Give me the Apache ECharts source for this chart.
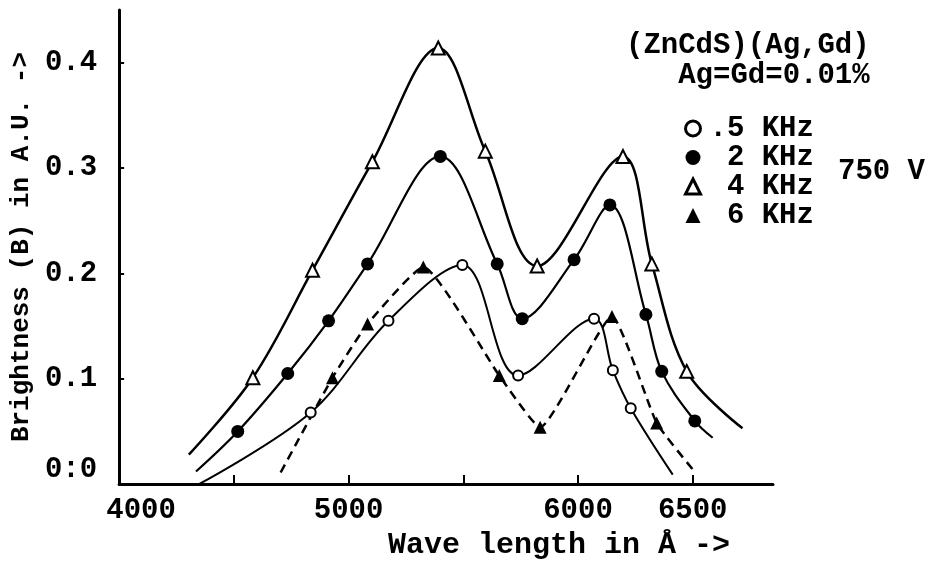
<!DOCTYPE html>
<html>
<head>
<meta charset="utf-8">
<script src="https://cdn.jsdelivr.net/npm/echarts@6/dist/echarts.min.js"></script>
<style>
html,body{margin:0;padding:0;background:#fff;}
#chart{width:947px;height:565px;}
</style>
</head>
<body>
<div id="chart"></div>
<script>
// Data (wavelength in Å, brightness in A.U.)
// Points with a 0 marker flag are curve ends drawn without a symbol.
const seriesNames = ['.5 KHz', '2 KHz', '4 KHz', '6 KHz'];

const wl_05 = [4348, 4835, 5174, 5496, 5739, 6070, 6152, 6230, 6413];
const b_05  = [0.000, 0.068, 0.155, 0.208, 0.103, 0.157, 0.108, 0.072, 0.009];
const mk_05 = [0, 1, 1, 1, 1, 1, 1, 1, 0];

const wl_2 = [4335, 4517, 4735, 4913, 5083, 5400, 5648, 5757, 5983, 6139, 6296, 6365, 6509, 6587];
const b_2  = [0.012, 0.050, 0.105, 0.155, 0.209, 0.311, 0.209, 0.157, 0.213, 0.265, 0.161, 0.107, 0.060, 0.044];
const mk_2 = [0, 1, 1, 1, 1, 1, 1, 1, 1, 1, 1, 1, 1, 0];

const wl_4 = [4304, 4583, 4843, 5104, 5391, 5596, 5822, 6196, 6322, 6474, 6717];
const b_4  = [0.028, 0.101, 0.203, 0.306, 0.414, 0.316, 0.207, 0.311, 0.209, 0.107, 0.053];
const mk_4 = [0, 1, 1, 1, 1, 1, 1, 1, 1, 1, 0];

const wl_6 = [4704, 4930, 5083, 5326, 5657, 5835, 6148, 6343, 6500];
const b_6  = [0.011, 0.101, 0.152, 0.206, 0.103, 0.054, 0.159, 0.058, 0.014];
const mk_6 = [0, 1, 1, 1, 1, 1, 1, 1, 0];

const xLabelValues = [4000, 5000, 6000, 6500];
const xTickValues  = [4500, 5000, 5500, 6000, 6500];
const yLabelValues = [0, 0.1, 0.2, 0.3, 0.4];
const yTickLabels  = ['0:0', '0.1', '0.2', '0.3', '0.4'];

const titleLines = ['(ZnCdS)(Ag,Gd)', '   Ag=Gd=0.01%'];
const voltageText = '750 V';
const xAxisTitle = 'Wave length in Å ->';
const yAxisTitle = 'Brightness (B) in A.U. ->';

const FONT = 'Liberation Mono';

function build(wl, b, mk) {
  return wl.map((x, i) => mk[i] ? [x, b[i]] : { value: [x, b[i]], symbol: 'none' });
}

const chart = echarts.init(document.getElementById('chart'), null, { renderer: 'canvas' });

const option = {
  backgroundColor: '#fff',
  animation: false,
  title: {
    text: titleLines.join('\n'),
    left: 621,
    top: 26,
    textStyle: { fontFamily: FONT, fontSize: 29, fontWeight: 'bold', color: '#000', lineHeight: 30 }
  },
  graphic: [{
    type: 'text',
    left: 838,
    top: 157,
    style: { text: voltageText, font: 'bold 29px "Liberation Mono"', fill: '#000' }
  }],
  legend: {
    orient: 'vertical',
    left: 679,
    top: 109,
    itemWidth: 15,
    itemHeight: 15,
    itemGap: 0,
    formatter: (n) => n.padStart(6, ' '),
    textStyle: { fontFamily: FONT, fontSize: 29, fontWeight: 'bold', color: '#000', lineHeight: 29, padding: [0, 0, 0, 4] },
    data: [
      { name: seriesNames[0], icon: 'circle', itemStyle: { color: '#fff', borderColor: '#000', borderWidth: 3 } },
      { name: seriesNames[1], icon: 'circle', itemStyle: { color: '#000', borderWidth: 0 } },
      { name: seriesNames[2], icon: 'triangle', itemStyle: { color: '#fff', borderColor: '#000', borderWidth: 3 } },
      { name: seriesNames[3], icon: 'triangle', itemStyle: { color: '#000', borderWidth: 0 } }
    ]
  },
  grid: { left: 118, top: 10, right: 174, bottom: 75, containLabel: false },
  xAxis: {
    type: 'value',
    min: 4000,
    max: 6850,
    interval: 500,
    splitLine: { show: false },
    axisLine: { lineStyle: { color: '#000', width: 3 } },
    axisTick: { show: true, inside: true, length: 9, customValues: xTickValues, lineStyle: { color: '#000', width: 2 } },
    axisLabel: {
      customValues: xLabelValues,
      margin: 12,
      fontFamily: FONT, fontSize: 29, fontWeight: 'bold', color: '#000',
      formatter: (v) => v === 4000 ? '{a|' + v + '}' : String(v),
      rich: { a: { fontFamily: FONT, fontSize: 29, fontWeight: 'bold', color: '#000', padding: [0, 0, 0, 44] } }
    },
    name: xAxisTitle,
    nameLocation: 'middle',
    nameGap: 36,
    nameTextStyle: { fontFamily: FONT, fontSize: 30, fontWeight: 'bold', color: '#000', padding: [0, 0, 0, 226] }
  },
  yAxis: {
    type: 'value',
    min: 0,
    max: 0.45,
    interval: 0.1,
    splitLine: { show: false },
    axisLine: { lineStyle: { color: '#000', width: 3 } },
    axisTick: { show: true, inside: true, length: 5, customValues: yLabelValues, lineStyle: { color: '#000', width: 2 } },
    axisLabel: {
      customValues: yLabelValues,
      margin: 22,
      fontFamily: FONT, fontSize: 29, fontWeight: 'bold', color: '#000',
      verticalAlignMinLabel: 'bottom',
      formatter: (v) => yTickLabels[Math.round(v * 10)]
    },
    name: yAxisTitle,
    nameLocation: 'middle',
    nameGap: 78,
    nameTextStyle: { fontFamily: FONT, fontSize: 26, fontWeight: 'bold', color: '#000' }
  },
  series: [
    {
      name: seriesNames[0], type: 'line', smooth: 0.35,
      data: build(wl_05, b_05, mk_05),
      symbol: 'emptyCircle', symbolSize: 10,
      itemStyle: { color: '#000', borderWidth: 2 },
      lineStyle: { color: '#000', width: 2 }
    },
    {
      name: seriesNames[1], type: 'line', smooth: 0.35,
      data: build(wl_2, b_2, mk_2),
      symbol: 'circle', symbolSize: 13,
      itemStyle: { color: '#000' },
      lineStyle: { color: '#000', width: 2.2 }
    },
    {
      name: seriesNames[2], type: 'line', smooth: 0.35,
      data: build(wl_4, b_4, mk_4),
      symbol: 'emptyTriangle', symbolSize: 13,
      itemStyle: { color: '#000', borderWidth: 2.5 },
      lineStyle: { color: '#000', width: 2.5 }
    },
    {
      name: seriesNames[3], type: 'line', smooth: 0.15,
      data: build(wl_6, b_6, mk_6),
      symbol: 'triangle', symbolSize: 13,
      itemStyle: { color: '#000' },
      lineStyle: { color: '#000', width: 2.5, type: [9, 6] }
    }
  ]
};
chart.setOption(option);
</script>
</body>
</html>
